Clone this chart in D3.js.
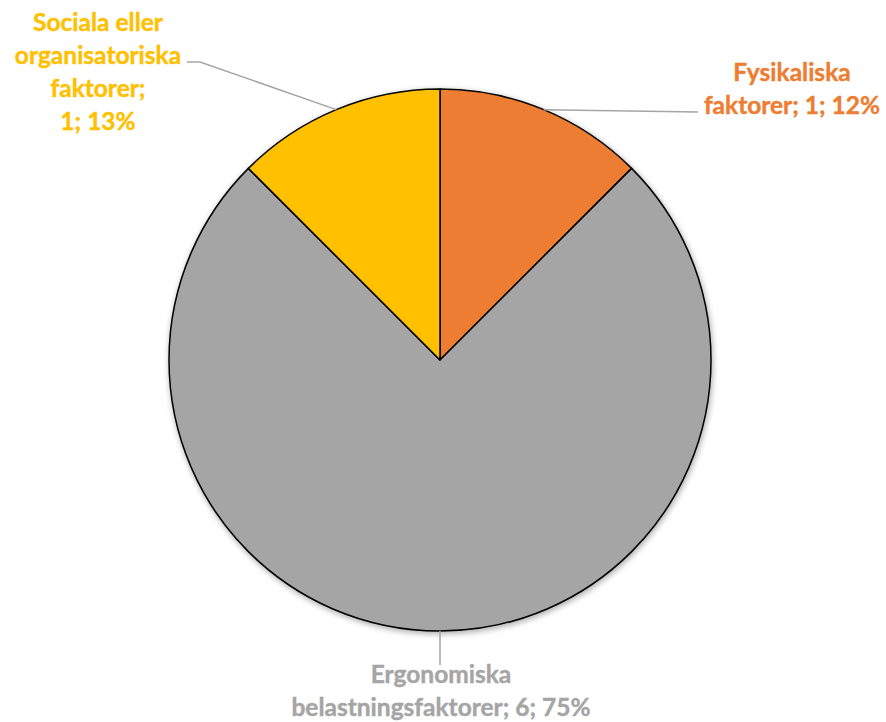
<!DOCTYPE html>
<html>
<head>
<meta charset="utf-8">
<script src="https://cdn.jsdelivr.net/npm/d3@7"></script>
<style>
  body { margin: 0; background: #fff; }
  svg { display: block; }
</style>
</head>
<body>
<svg width="886" height="722"></svg>
<script>
// data
const categories = ['Fysikaliska faktorer', 'Ergonomiska belastningsfaktorer', 'Sociala eller organisatoriska faktorer'];
const values = [1, 6, 1];
const pctLabels = ['12%', '75%', '13%'];
const colors = ['#ED7D31', '#A5A5A5', '#FFC000'];

// label layout: text lines, anchor, leader elbow
const labelLines = [
  ['Fysikaliska', 'faktorer; 1; 12%'],
  ['Ergonomiska', 'belastningsfaktorer; 6; 75%'],
  ['Sociala eller', 'organisatoriska', 'faktorer;', '1; 13%']
];
const labelPos = [
  { x: 792, y: 81, elbow: [698, 112] },
  { x: 441, y: 683, elbow: [440, 665] },
  { x: 98, y: 31, elbow: [187, 62], elbow2: [200, 62] }
];

const svg = d3.select('svg');
const cx = 440, cy = 360, r = 271;
const g = svg.append('g').attr('transform', `translate(${cx}, ${cy})`);

const defs = svg.append('defs');
const f = defs.append('filter').attr('id', 'sh').attr('x', '-20%').attr('y', '-20%').attr('width', '140%').attr('height', '140%');
f.append('feGaussianBlur').attr('in', 'SourceAlpha').attr('stdDeviation', 3);
f.append('feOffset').attr('dx', 1).attr('dy', 2).attr('result', 'b');
f.append('feComponentTransfer').append('feFuncA').attr('type', 'linear').attr('slope', 0.35);
const fm = f.append('feMerge');
fm.append('feMergeNode');
fm.append('feMergeNode').attr('in', 'SourceGraphic');

const pie = d3.pie().sort(null).value(d => d);
const arcs = pie(values);
const arc = d3.arc().innerRadius(0).outerRadius(r);

g.append('g').attr('filter', 'url(#sh)')
  .selectAll('path')
  .data(arcs)
  .join('path')
  .attr('d', arc)
  .attr('fill', (d, i) => colors[i])
  .attr('stroke', '#000')
  .attr('stroke-width', 1.5)
  .attr('stroke-linejoin', 'round');

// leader lines
arcs.forEach((a, i) => {
  const mid = (a.startAngle + a.endAngle) / 2;
  const px = cx + r * Math.sin(mid), py = cy - r * Math.cos(mid);
  const lp = labelPos[i];
  const pts = [[px, py]];
  if (lp.elbow2) pts.push(lp.elbow2);
  pts.push(lp.elbow);
  svg.append('path')
    .attr('d', d3.line()(pts))
    .attr('fill', 'none')
    .attr('stroke', '#A5A5A5')
    .attr('stroke-width', 1.5);
});

// labels
labelLines.forEach((lines, i) => {
  const t = svg.append('text')
    .attr('x', labelPos[i].x)
    .attr('y', labelPos[i].y)
    .attr('text-anchor', 'middle')
    .attr('font-family', 'Lato, "Open Sans", sans-serif')
    .attr('font-weight', 'bold')
    .attr('font-size', 24.5)
    .attr('fill', colors[i])
    .attr('stroke', colors[i])
    .attr('stroke-width', 0.4);
  lines.forEach((l, j) => {
    t.append('tspan').attr('x', labelPos[i].x).attr('dy', j === 0 ? 0 : 33).text(l);
  });
});
</script>
</body>
</html>
